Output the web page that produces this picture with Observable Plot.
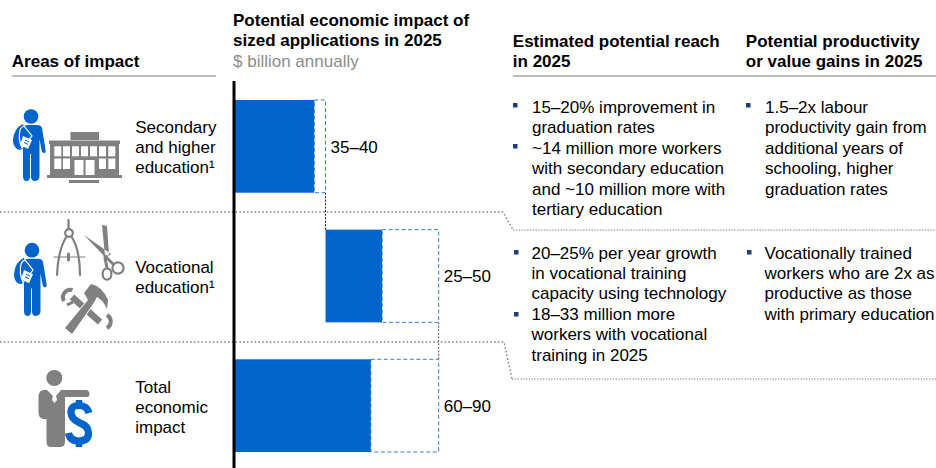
<!DOCTYPE html>
<html>
<head>
<meta charset="utf-8">
<script src="https://cdn.jsdelivr.net/npm/d3@7"></script>
<script src="https://cdn.jsdelivr.net/npm/@observablehq/plot@0.6"></script>
<style>
html,body{margin:0;padding:0;background:#fff}
svg{display:block}
</style>
</head>
<body>
<div id="chart"></div>
<script>
const categories = ["Secondary", "Vocational", "Total"];
const barStart = [0, 40, 0];
const lowValues = [35, 25, 60];
const highValues = [40, 50, 90];
const rangeLabels = ["35–40", "25–50", "60–90"];

const headAreas = "Areas of impact";
const headImpact = "Potential economic impact of\nsized applications in 2025";
const headUnit = "$ billion annually";
const headReach = "Estimated potential reach\nin 2025";
const headGains = "Potential productivity\nor value gains in 2025";
const rowLabels = ["Secondary\nand higher\neducation¹", "Vocational\neducation¹", "Total\neconomic\nimpact"];
const reachText = [
  "15–20% improvement in\ngraduation rates\n~14 million more workers\nwith secondary education\nand ~10 million more with\ntertiary education",
  "20–25% per year growth\nin vocational training\ncapacity using technology\n18–33 million more\nworkers with vocational\ntraining in 2025"
];
const gainsText = [
  "1.5–2x labour\nproductivity gain from\nadditional years of\nschooling, higher\ngraduation rates",
  "Vocationally trained\nworkers who are 2x as\nproductive as those\nwith primary education"
];

const rows = categories.map((c, i) => ({
  c, x0: barStart[i], low: barStart[i] + lowValues[i], high: barStart[i] + highValues[i], label: rangeLabels[i]
}));

const FS = 17, LH = 20.4 / 17;
const font = "'Liberation Sans', Arial, sans-serif";
// text block placed by its first baseline
const block = (text, left, baseline, o = {}) => Plot.text([text], {
  text: d => d, frameAnchor: "top-left", lineAnchor: "top", textAnchor: "start",
  dx: left, dy: baseline - 0.96 * FS, lineHeight: LH, fontSize: FS, fontFamily: font, fill: "#000", ...o
});

const BLUE = "#0064cb", GREY = "#808080";
const person = `
  <g fill="${BLUE}">
    <circle cx="31" cy="116.5" r="7.3"/>
    <path d="M23 127 Q24 125 28 125 H37 Q41 125 42 128 L45.6 150 Q46 153 44 153 Q42 153 41.5 150 L39.5 139 V176 Q39.5 181 34.5 181 Q31.5 181 31 177 V154 H30 V177 Q29.5 181 26.5 181 Q23 181 23 176 Z"/>
    <path d="M23 124 Q14 128 13 140 Q13 146 17 149 Q21 151 25 147 V130 Z"/>
  </g>
  <path d="M20 130 Q21 127 24 126 L32 136 L22 148 Q18 140 20 130Z" fill="none" stroke="#fff" stroke-width="1.2"/>
  <path d="M23 136 L32 140 L28 149 L20 145 Z" fill="#fff"/>
  <path d="M25 140 L29 142 M24 142.5 L28 144.5" stroke="${BLUE}" stroke-width="1"/>`;

const buildingWindows = [];
for (const x of [54.3, 63, 72, 81, 90, 99, 108.3]) buildingWindows.push(`<rect x="${x}" y="146.3" width="7" height="10"/>`);
for (const x of [54.3, 63, 99, 108.3]) buildingWindows.push(`<rect x="${x}" y="158.5" width="7" height="10.5"/>`);

const icons = `
  ${person}
  <g fill="${GREY}">
    <rect x="70.5" y="132" width="28.5" height="8"/>
    <rect x="49" y="140.5" width="71" height="3.5"/>
    <rect x="50" y="144" width="69" height="31"/>
    <rect x="47" y="175" width="75" height="3"/>
    <rect x="69" y="180" width="30" height="3"/>
  </g>
  <g fill="#fff">${buildingWindows.join("")}
    <rect x="74.5" y="160" width="9" height="15"/><rect x="85.5" y="160" width="9" height="15"/>
  </g>
  <g transform="translate(1,129) scale(1,1.02) translate(0,2.3)">${person}</g>
  <g fill="none" stroke="${GREY}" stroke-width="2.2" stroke-linecap="round">
    <path d="M68.5 220 V229"/><circle cx="69" cy="233" r="3.8"/>
    <path d="M66.5 236.5 Q58 250 57 275 M71.5 236.5 Q80 250 80 275"/>
    <path d="M54 257 H85" stroke-width="1.2"/><path d="M68.5 254 V260" stroke-width="3"/>
    <circle cx="118" cy="268" r="5.6"/><ellipse cx="107" cy="274" rx="4.4" ry="5.6"/>
    <path d="M107 268 L105 258" stroke-width="3"/><path d="M113 264 L105 256" stroke-width="3"/>
  </g>
  <path d="M84 235 L106 258 L111 254 Z M102 225 L107 226 L109 255 L105 256 Z" fill="${GREY}"/>
  <g fill="none" stroke="${GREY}" stroke-linecap="butt">
    <path d="M72 297 L100 322" stroke-width="6.5"/>
    <path d="M72.5 290 A7.5 7.5 0 0 0 64 301" stroke-width="4"/>
    <path d="M67 305 L73 302" stroke-width="3"/>
    <path d="M107 328 A7.5 7.5 0 0 0 107 315" stroke-width="4"/>
  </g>
  <path d="M65 328 L88 300 L84 293 L91 284 Q102 286 108 300 L107 309 Q103 300 97 297 L93 304 L72 334 Z" fill="#fff" stroke="#fff" stroke-width="1.6"/>
  <path d="M65 328 L88 300 L84 293 L91 284 Q102 286 108 300 L107 309 Q103 300 97 297 L93 304 L72 334 Z" fill="${GREY}"/>
  <circle cx="54.3" cy="378" r="8" fill="${GREY}"/>
  <path d="M44 390 H47 L53 396 H56 L61 390 H87 Q89.5 391 89.5 393.5 Q89.5 397 87 397 H65 V442 Q65 447 60 447 H51 Q46.5 447 46.5 442 V419 Q39 420 38.5 413 V396 Q39 390 44 390Z" fill="${GREY}"/>
  <path d="M53 390.5 H56 L55.5 393.5 L57 400 L54.5 403 L52 400 L53.5 393.5 Z" fill="#fff"/>
  <path d="M89 413 Q87 405.5 79 405.5 Q70.5 405.5 71 413 Q71.5 419 79 422.5 Q88.5 426 88.5 433 Q88.5 441 79 441 Q70 441 68.5 433" fill="none" stroke="${BLUE}" stroke-width="7.2"/>
  <path d="M79 400 V408 M79 439 V447" fill="none" stroke="${BLUE}" stroke-width="6.5"/>`;

const bullets = [[513,103],[513,144],[746,103],[514,250],[514,312],[747,250]]
  .map(([x, y]) => `<rect x="${x}" y="${y}" width="4.5" height="4.5" fill="#1c3f7c"/>`).join("");

const guides = `
  <path d="M12 76 H216 M513 76 H936" stroke="#a6a6a6" stroke-width="1.3" fill="none"/>
  <path d="M0 212 H503 L513 230" stroke="#808080" stroke-width="1.4" stroke-dasharray="1.6 2.2" fill="none"/>
  <path d="M513 230 H936" stroke="#808080" stroke-width="1" stroke-dasharray="1.4 1.4" fill="none"/>
  <path d="M0 342 H504 L512 379" stroke="#808080" stroke-width="1.4" stroke-dasharray="1.6 2.2" fill="none"/>
  <path d="M512 379 H936" stroke="#808080" stroke-width="1" stroke-dasharray="1.4 1.4" fill="none"/>`;

const artwork = markup => () => d3.create("svg:g").html(markup).node();

const connectors = (index, scales) => {
  const bw = scales.scales.y.bandwidth;
  const g = d3.create("svg:g").attr("fill", "none").attr("stroke-width", 1).attr("stroke-dasharray", "2 1.5");
  [[0, "#111"], [1, "#555"]].forEach(([i, color]) => {
    const x = scales.x(rows[i].high);
    g.append("line").attr("x1", x).attr("x2", x)
      .attr("y1", scales.y(categories[i]) + bw)
      .attr("y2", scales.y(categories[i + 1]))
      .attr("stroke", color);
  });
  return g.node();
};

const chart = Plot.plot({
  width: 936, height: 468,
  marginTop: 0, marginRight: 0, marginBottom: 0, marginLeft: 0,
  style: {background: "#fff", fontFamily: font},
  x: {domain: [0, 90], range: [235, 438.7], axis: null},
  y: {domain: categories, range: [100, 452], type: "band", paddingInner: 0.285, paddingOuter: 0, round: false, axis: null},
  marks: [
    artwork(guides),
    connectors,
    Plot.barX(rows, {x1: "low", x2: "high", y: "c", fill: "none", stroke: "#2e80de", strokeWidth: 1, strokeDasharray: "4 2.5"}),
    Plot.barX(rows, {x1: "x0", x2: "low", y: "c", fill: BLUE}),
    Plot.ruleX([0], {insetTop: 81, dx: -1.5, stroke: "#000", strokeWidth: 3}),
    Plot.text(rows, {x: "high", y: "c", text: "label", dx: 4.5, dy: 0.5, textAnchor: "start", fontSize: FS, fontFamily: font, fill: "#000"}),
    artwork(icons),
    artwork(bullets),
    block(headAreas, 11.3, 68, {fontWeight: "bold"}),
    block(headImpact, 232.5, 27, {fontWeight: "bold"}),
    block(headUnit, 232.5, 68, {fill: "#8c8c8c"}),
    block(headReach, 512.3, 48, {fontWeight: "bold"}),
    block(headGains, 745.3, 48, {fontWeight: "bold"}),
    block(rowLabels[0], 134.7, 134),
    block(rowLabels[1], 134.7, 274),
    block(rowLabels[2], 134.7, 394),
    block(reachText[0], 531.5, 114.3),
    block(gainsText[0], 764.5, 114.3),
    block(reachText[1], 531, 260),
    block(gainsText[1], 764, 260)
  ]
});
document.getElementById("chart").append(chart);
</script>
</body>
</html>
